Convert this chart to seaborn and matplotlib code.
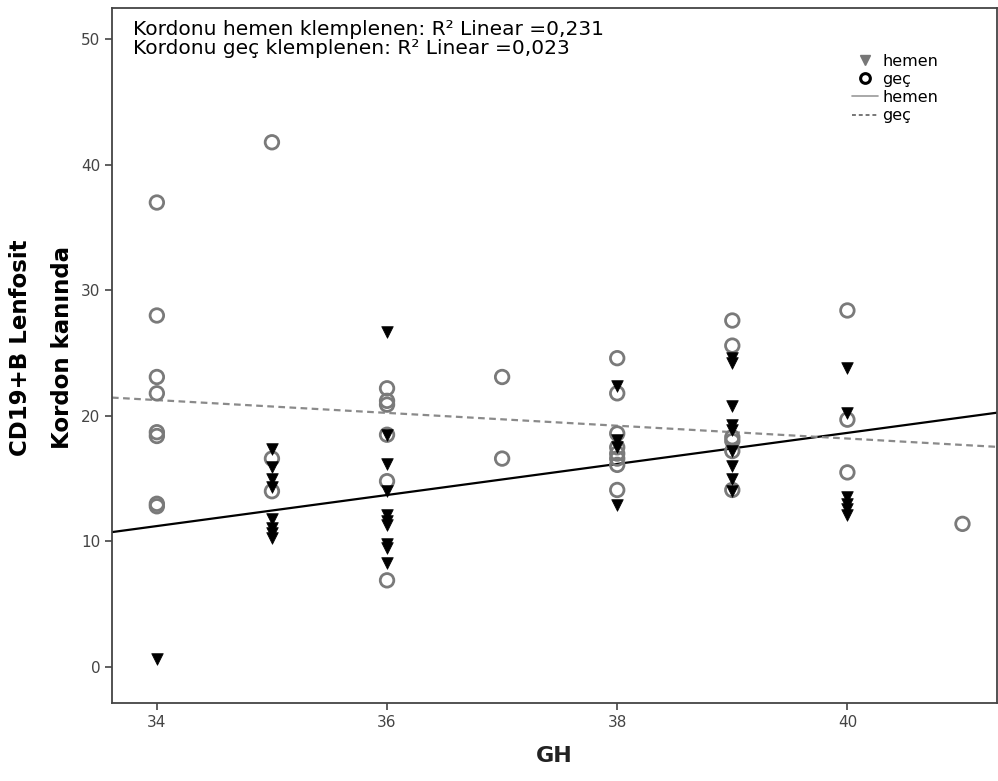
import numpy as np
import pandas as pd
import matplotlib
matplotlib.use("Agg")
import matplotlib.pyplot as plt
from matplotlib.lines import Line2D
import seaborn as sns

# hemen (immediate clamping) - triangles
hemen_gh = [34,
            35, 35, 35, 35, 35, 35, 35, 35,
            36, 36, 36, 36, 36, 36, 36, 36, 36, 36,
            38, 38, 38, 38,
            39, 39, 39, 39, 39, 39, 39, 39, 39,
            40, 40, 40, 40, 40, 40]
hemen_cd19 = [0.6,
              17.4, 15.9, 15.0, 14.3, 11.8, 11.1, 10.7, 10.3,
              26.7, 18.5, 16.2, 14.0, 12.1, 11.6, 11.3, 9.8, 9.5, 8.3,
              22.4, 18.1, 17.5, 12.9,
              24.6, 24.2, 20.8, 19.3, 18.9, 17.2, 16.0, 15.0, 14.0,
              23.8, 20.2, 13.5, 13.0, 12.6, 12.1]

# gec (delayed clamping) - circles
gec_gh = [34, 34, 34, 34, 34, 34, 34, 34,
          35, 35, 35,
          36, 36, 36, 36, 36, 36,
          37, 37,
          38, 38, 38, 38, 38, 38, 38, 38,
          39, 39, 39, 39, 39, 39,
          40, 40, 40,
          41]
gec_cd19 = [37.0, 28.0, 23.1, 21.8, 18.7, 18.4, 13.0, 12.8,
            41.8, 16.6, 14.0,
            22.2, 21.2, 20.9, 18.5, 14.8, 6.9,
            23.1, 16.6,
            24.6, 21.8, 18.6, 17.5, 17.0, 16.6, 16.1, 14.1,
            27.6, 25.6, 18.3, 18.0, 17.2, 14.1,
            28.4, 19.7, 15.5,
            11.4]

r2_text = ["Kordonu hemen klemplenen: R² Linear =0,231",
           "Kordonu geç klemplenen: R² Linear =0,023"]

hemen = pd.DataFrame({"GH": hemen_gh, "CD19": hemen_cd19})
gec = pd.DataFrame({"GH": gec_gh, "CD19": gec_cd19})

sns.set_style("ticks")
plt.rcParams["font.family"] = ["DejaVu Sans"]
plt.rcParams["text.color"] = "black"

fig = plt.figure(figsize=(9.98, 7.81), dpi=100)
ax = fig.add_axes([0.1122, 0.0999, 0.8868, 0.8899])
ax.set_xlim(33.61, 41.30)
ax.set_ylim(-2.87, 52.5)

# fit lines over the full x range
sns.regplot(data=hemen, x="GH", y="CD19", scatter=False, ci=None, truncate=False,
            color="black", line_kws={"lw": 1.6}, ax=ax)
sns.regplot(data=gec, x="GH", y="CD19", scatter=False, ci=None, truncate=False,
            color="#8a8a8a", line_kws={"lw": 1.6, "ls": (0, (3, 2))}, ax=ax)

# points
sns.scatterplot(data=gec, x="GH", y="CD19", marker="o", s=95,
                facecolor="none", edgecolor="#7a7a7a", linewidth=2.0, ax=ax, zorder=3)
sns.scatterplot(data=hemen, x="GH", y="CD19", marker="v", s=70,
                color="black", edgecolor="black", linewidth=0.5, ax=ax, zorder=4)

ax.set_xlim(33.61, 41.30)
ax.set_ylim(-2.87, 52.5)
ax.set_xticks([34, 36, 38, 40])
ax.set_yticks([0, 10, 20, 30, 40, 50])
ax.tick_params(axis="both", labelsize=11, labelcolor="#444444", color="#444444",
               length=5, width=1.2, direction="out")
for s in ax.spines.values():
    s.set_visible(True)
    s.set_color("#444444")
    s.set_linewidth(1.3)

ax.set_xlabel("GH", fontsize=16, fontweight="bold", labelpad=12, color="#222222")
ax.set_ylabel("")
fig.text(0.021, 0.555, "CD19+B Lenfosit", rotation=90, fontsize=16.5, fontweight="heavy",
         ha="center", va="center")
fig.text(0.063, 0.555, "Kordon kanında", rotation=90, fontsize=16.5, fontweight="heavy",
         ha="center", va="center")

ax.text(0.024, 0.982, "\n".join(r2_text), transform=ax.transAxes, fontsize=14.5,
        ha="left", va="top", linespacing=0.95, color="black")

handles = [
    Line2D([], [], marker="v", color="#777777", ls="none", markersize=7),
    Line2D([], [], marker="o", markerfacecolor="none", markeredgecolor="black",
           markeredgewidth=2.2, ls="none", markersize=7),
    Line2D([], [], color="#999999", lw=1.2),
    Line2D([], [], color="#777777", lw=1.4, ls=(0, (2, 1.5))),
]
ax.legend(handles, ["hemen", "geç", "hemen", "geç"], loc="upper left",
          bbox_to_anchor=(0.82, 0.955), frameon=False, fontsize=11.5,
          handlelength=1.6, handletextpad=0.3, labelspacing=0.2)

fig.savefig("out.png", dpi=100)
